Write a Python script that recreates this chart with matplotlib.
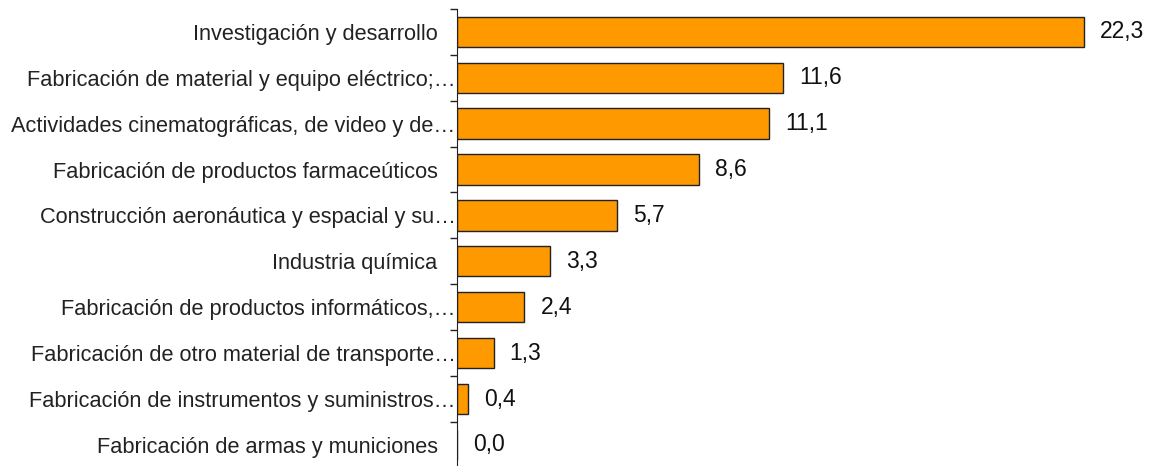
import matplotlib.pyplot as plt
import numpy as np

plt.rcParams['font.family'] = ['Liberation Sans', 'DejaVu Sans']

categories = [
    "Investigación y desarrollo   ",
    "Fabricación de material y equipo eléctrico;…",
    "Actividades cinematográficas, de video y de…",
    "Fabricación de productos farmaceúticos   ",
    "Construcción aeronáutica y espacial y su…",
    "Industria química   ",
    "Fabricación de productos informáticos,…",
    "Fabricación de otro material de transporte…",
    "Fabricación de instrumentos y suministros…",
    "Fabricación de armas y municiones   ",
]
values = [22.3, 11.6, 11.1, 8.6, 5.7, 3.3, 2.4, 1.3, 0.4, 0.0]

fig = plt.figure(figsize=(11.55, 4.66), dpi=100)
ax = fig.add_axes([457 / 1155, -0.004, 1 - 457 / 1155, 0.985])

y = np.arange(len(categories))
rects = ax.barh(y, values, height=0.66, color='#FF9900', edgecolor='#222222', linewidth=1)
ax.bar_label(rects, labels=[f"{v:.1f}".replace('.', ',') for v in values],
             padding=11.5, fontsize=16.5, color='#111111')

ax.set_ylim(len(categories) - 0.5, -0.5)
ax.set_xlim(0, 24.84)
ax.set_yticks(y, categories, fontsize=15.7, color='#222222')
ax.tick_params(axis='y', which='major', length=0, pad=1)
ax.set_yticks(np.arange(len(categories) + 1) - 0.5, minor=True)
ax.tick_params(axis='y', which='minor', length=5, width=1, color='#222222')
ax.set_xticks([])
for s in ('top', 'right', 'bottom'):
    ax.spines[s].set_visible(False)
ax.spines['left'].set_color('#222222')

fig.savefig('out.png', dpi=100)
